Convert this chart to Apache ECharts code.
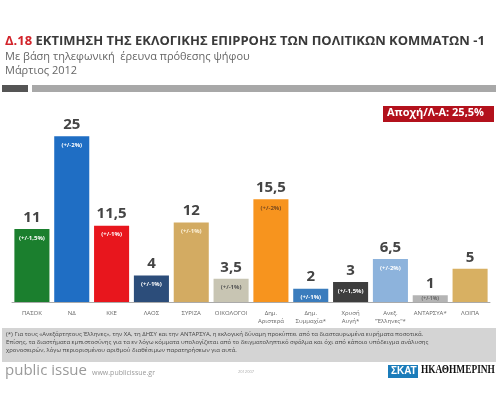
<!DOCTYPE html>
<html>
<head>
<meta charset="utf-8">
<script src="https://cdn.jsdelivr.net/npm/echarts@6/dist/echarts.min.js"></script>
<style>
  html, body { margin: 0; padding: 0; background: #fff; }
  #chart { width: 500px; height: 399px; }
</style>
</head>
<body>
<div id="chart"></div>
<script>
const parties = ['ΠΑΣΟΚ', 'ΝΔ', 'ΚΚΕ', 'ΛΑΟΣ', 'ΣΥΡΙΖΑ', 'ΟΙΚΟΛΟΓΟΙ', 'Δημ.\nΑριστερά', 'Δημ.\nΣυμμαχία*', 'Χρυσή\nΑυγή*', 'Ανεξ.\n"Έλληνες"*', 'ΑΝΤΑΡΣΥΑ*', 'ΛΟΙΠΑ']
const estimates = [11, 25, 11.5, 4, 12, 3.5, 15.5, 2, 3, 6.5, 1, 5]
const margins = ['(+/-1,5%)', '(+/-2%)', '(+/-1%)', '(+/-1%)', '(+/-1%)', '(+/-1%)', '(+/-2%)', '(+/-1%)', '(+/-1,5%)', '(+/-2%)', '(+/-1%)', '']

const barColors = ['#1b7f2e', '#1f6ec4', '#e8161d', '#2c4d7a', '#d3ab62', '#c8c5b3', '#f7941e', '#3a7cbd', '#3e3e3e', '#8db3dc', '#b4b4b4', '#d8b062']
const marginColors = ['#fff', '#fff', '#fff', '#fff', '#fdf3dc', '#555', '#7a4a1e', '#fff', '#fff', '#fff', '#666', '#fff']

const fmt = v => String(v).replace('.', ',')

const chart = echarts.init(document.getElementById('chart'))

const footnote = '(*) Για τους «Ανεξάρτητους Έλληνες», την ΧΑ, τη ΔΗΣΥ και την ΑΝΤΑΡΣΥΑ, η εκλογική δύναμη προκύπτει από τα διασταυρωμένα ευρήματα ποσοτικά.\n' +
  'Επίσης, τα διαστήματα εμπιστοσύνης για τα εν λόγω κόμματα υπολογίζεται από το δειγματοληπτικό σφάλμα και όχι από κάποιο υπόδειγμα ανάλυσης\n' +
  'χρονοσειρών, λόγω περιορισμένου αριθμού διαθέσιμων παρατηρήσεων για αυτά.'

const option = {
  animation: false,
  backgroundColor: '#fff',
  grid: { left: 12, right: 10, top: 103, bottom: 97 },
  xAxis: {
    type: 'category',
    data: parties,
    axisTick: { show: false },
    axisLine: { lineStyle: { color: '#aaa', width: 1 } },
    axisLabel: { color: '#666', fontSize: 6, fontFamily: 'Open Sans', margin: 7, lineHeight: 8, interval: 0 }
  },
  yAxis: { type: 'value', min: 0, max: 30, show: false },
  series: [
    {
      type: 'bar',
      barCategoryGap: '12%',
      data: estimates.map((v, i) => ({ value: v, itemStyle: { color: barColors[i] } })),
      label: {
        show: true,
        position: 'top',
        distance: 4,
        color: '#444',
        fontSize: 15,
        fontWeight: 'bold',
        fontFamily: 'Open Sans',
        formatter: p => fmt(p.value)
      }
    },
    {
      type: 'bar',
      barGap: '-100%',
      barCategoryGap: '12%',
      silent: true,
      data: estimates.map((v, i) => ({
        value: v,
        itemStyle: { color: 'rgba(0,0,0,0)' },
        label: v < 1.5
          ? { color: marginColors[i], position: 'inside', fontSize: 5 }
          : { color: marginColors[i] }
      })),
      label: {
        show: true,
        position: 'insideTop',
        distance: 6,
        fontSize: 6,
        fontWeight: 'bold',
        fontFamily: 'Open Sans',
        formatter: p => margins[p.dataIndex]
      }
    }
  ],
  graphic: [
    {
      type: 'text', left: 5, top: 35,
      style: {
        text: '{r|Δ.18} ΕΚΤΙΜΗΣΗ ΤΗΣ ΕΚΛΟΓΙΚΗΣ ΕΠΙΡΡΟΗΣ ΤΩΝ ΠΟΛΙΤΙΚΩΝ ΚΟΜΜΑΤΩΝ -1',
        fill: '#3a3a3a', font: 'bold 13px "Open Sans"',
        rich: { r: { fill: '#d2232a', font: 'bold 13px "Open Sans"' } }
      }
    },
    { type: 'text', left: 5, top: 51, style: { text: 'Με βάση τηλεφωνική  έρευνα πρόθεσης ψήφου', fill: '#666', font: '11px "Open Sans"' } },
    { type: 'text', left: 5, top: 65, style: { text: 'Μάρτιος 2012', fill: '#666', font: '11px "Open Sans"' } },
    { type: 'rect', shape: { x: 2, y: 85, width: 26, height: 7 }, style: { fill: '#555' } },
    { type: 'rect', shape: { x: 32, y: 85, width: 464, height: 7 }, style: { fill: '#a8a8a8' } },
    { type: 'rect', shape: { x: 383, y: 106, width: 111, height: 16 }, style: { fill: '#b3111c' } },
    { type: 'text', left: 387, top: 107, style: { text: 'Αποχή/Λ-Α: 25,5%', fill: '#fff', font: 'bold 11px "Open Sans"' } },
    { type: 'rect', shape: { x: 2, y: 328, width: 494, height: 34 }, style: { fill: '#d4d4d4' } },
    { type: 'text', left: 6, top: 330, style: { text: footnote, fill: '#444', font: '6px "Open Sans"', lineHeight: 8.3 } },
    { type: 'text', left: 5, top: 363, style: { text: 'public issue', fill: '#9a9a9a', font: '15px "Open Sans"' } },
    { type: 'text', left: 92, top: 369, style: { text: 'www.publicissue.gr', fill: '#9a9a9a', font: '7px "Open Sans"' } },
    { type: 'text', left: 238, top: 370, style: { text: '2012007', fill: '#aaa', font: '4px "Open Sans"' } },
    { type: 'rect', shape: { x: 388, y: 365, width: 30, height: 13 }, style: { fill: '#1b7cba' } },
    { type: 'text', left: 391, top: 366, style: { text: 'ΣΚΑΤ', fill: '#fff', font: 'bold 10px "Liberation Sans"' } },
    { type: 'text', x: 421, y: 364, scaleX: 0.78, style: { text: 'ΗΚΑΘΗΜΕΡΙΝΗ', fill: '#111', font: 'bold 12px "Liberation Serif"' } }
  ]
}

chart.setOption(option)
</script>
</body>
</html>
